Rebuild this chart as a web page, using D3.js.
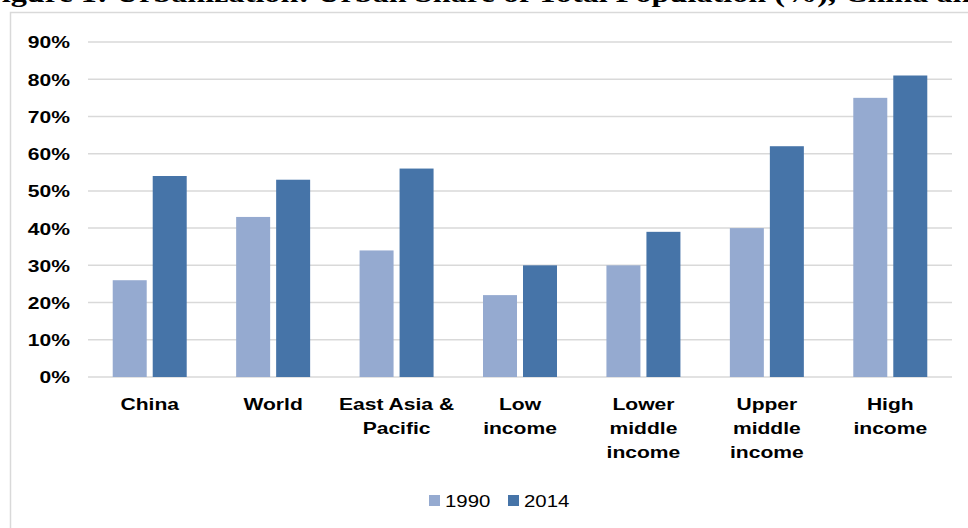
<!DOCTYPE html>
<html><head><meta charset="utf-8">
<script src="https://cdn.jsdelivr.net/npm/d3@7"></script>
<style>body{margin:0;background:#fff;overflow:hidden}svg{display:block}</style>
</head><body>
<svg id="c" width="968" height="528"></svg>
<script>
const categories = [["China"], ["World"], ["East Asia &", "Pacific"], ["Low", "income"], ["Lower", "middle", "income"], ["Upper", "middle", "income"], ["High", "income"]];
const seriesNames = ["1990", "2014"];
const values1990 = [26, 43, 34, 22, 30, 40, 75];
const values2014 = [54, 53, 56, 30, 39, 62, 81];
const yTicks = [0, 10, 20, 30, 40, 50, 60, 70, 80, 90];
const colors = ["#95AAD0", "#4674A8"];
const title = "Figure 1: Urbanization: Urban Share of Total Population (%), China and Comparators";

(function () {
const SX = 1.24;
const svg = d3.select("#c");
svg.append("text").attr("transform", "translate(-18,1.5) scale(1.29,1)")
  .attr("font-family", "Liberation Serif, Times New Roman, serif")
  .attr("font-weight", "bold").attr("font-size", 25).attr("fill", "#000").text(title);
svg.append("rect").attr("x", 10.5).attr("y", 12.5).attr("width", 970).attr("height", 530)
  .attr("fill", "none").attr("stroke", "#d9d9d9").attr("stroke-width", 1.5);

const mLeft = 88, mRight = 952, mTop = 42, mBottom = 377;
const y = d3.scaleLinear().domain([0, 90]).range([mBottom, mTop]);
const idx = d3.range(categories.length);
const x0 = d3.scaleBand().domain(idx).range([mLeft, mRight]).paddingInner(0.4005).paddingOuter(0.20025);
const x1 = d3.scaleBand().domain(seriesNames).range([0, x0.bandwidth()]).paddingInner(0.15);

const g = svg.append("g");
g.selectAll("line.grid").data(yTicks).join("line")
  .attr("x1", mLeft).attr("x2", mRight)
  .attr("y1", d => y(d)).attr("y2", d => y(d))
  .attr("stroke", "#d9d9d9").attr("stroke-width", 1.5);

const yAxis = d3.axisLeft(y).tickValues(yTicks).tickSize(0).tickPadding(0).tickFormat(d => d + "%");
const ya = g.append("g").attr("transform", `translate(70,0)`).call(yAxis);
ya.select(".domain").remove();
ya.selectAll("text").attr("font-family", "Liberation Sans, Arial, sans-serif")
  .attr("font-weight", "bold").attr("font-size", 17).attr("fill", "#000")
  .attr("x", 0).attr("dy", "0.35em").attr("transform", `scale(${SX},1)`);

const data = [values1990, values2014];
seriesNames.forEach((s, si) => {
  g.selectAll("rect.s" + si).data(idx).join("rect").attr("class", "s" + si)
    .attr("x", i => x0(i) + x1(s))
    .attr("width", x1.bandwidth())
    .attr("y", i => y(data[si][i]))
    .attr("height", i => mBottom - y(data[si][i]))
    .attr("fill", colors[si]);
});

const labels = g.append("g");
idx.forEach(i => {
  const cx = x0(i) + x0.bandwidth() / 2;
  const t = labels.append("text")
    .attr("transform", `translate(${cx},0) scale(${SX},1)`)
    .attr("text-anchor", "middle")
    .attr("font-family", "Liberation Sans, Arial, sans-serif")
    .attr("font-weight", "bold").attr("font-size", 17).attr("fill", "#000");
  categories[i].forEach((line, li) => {
    t.append("tspan").attr("x", 0).attr("y", 410 + li * 24).text(line);
  });
});

const legend = svg.append("g");
const legX = [429, 508];
seriesNames.forEach((s, si) => {
  legend.append("rect").attr("x", legX[si]).attr("y", 495).attr("width", 11).attr("height", 11).attr("fill", colors[si]);
  legend.append("text").attr("transform", `translate(${legX[si] + 16},506.5) scale(1.2,1)`)
    .attr("font-family", "Liberation Sans, Arial, sans-serif").attr("font-size", 17).attr("fill", "#000").text(s);
});
})();
</script>
</body></html>
